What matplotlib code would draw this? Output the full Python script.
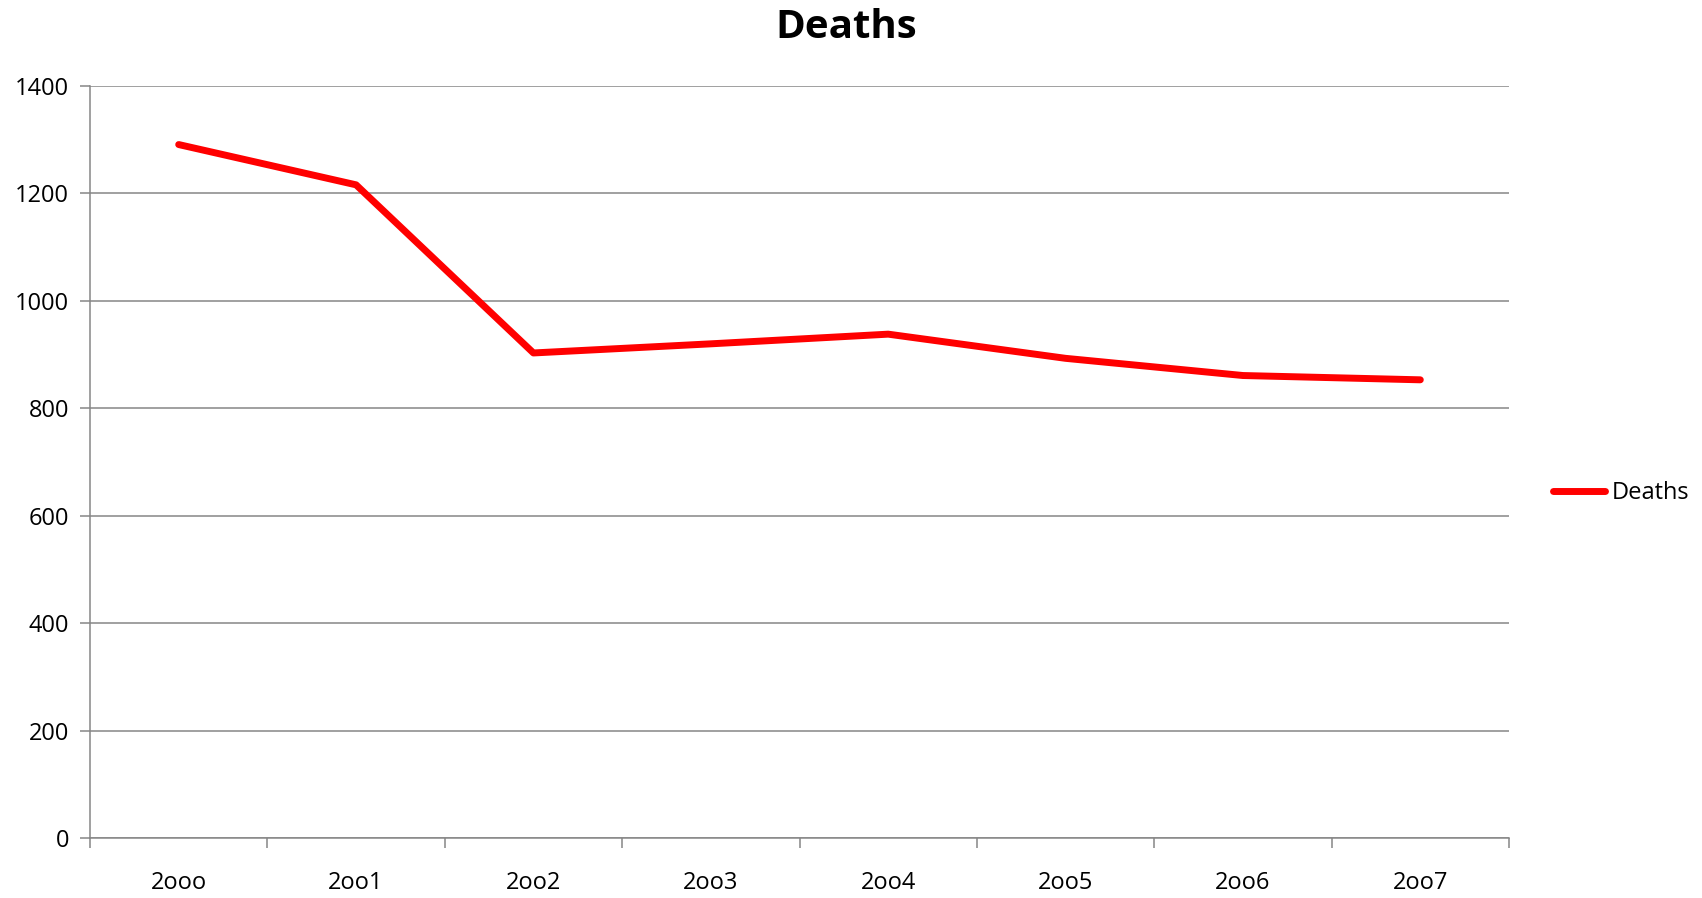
import numpy as np
import matplotlib.pyplot as plt

years = ['2ooo', '2oo1', '2oo2', '2oo3', '2oo4', '2oo5', '2oo6', '2oo7']
deaths = [1291, 1216, 903, 920, 938, 893, 861, 853]

plt.rcParams['font.family'] = ['Open Sans', 'DejaVu Sans']

fig = plt.figure(figsize=(17.02, 8.98), dpi=100)
ax = fig.add_axes([90/1702, 1-838/898, (1509-90)/1702, (838-86)/898])

x = np.arange(len(years))
ax.plot(x, deaths, color='#ff0000', lw=5, label='Deaths', solid_capstyle='round')

ax.set_xlim(-0.5, len(years) - 0.5)
ax.set_ylim(0, 1400)
ax.set_yticks(range(0, 1401, 200))
ax.set_xticks(x)
ax.set_xticklabels(years)
ax.set_xticks(np.arange(-0.5, len(years), 1), minor=True)

grid_c = '#868686'
ax.yaxis.grid(True, color=grid_c, lw=1.1)
ax.set_axisbelow(True)
for s in ['top', 'right']:
    ax.spines[s].set_visible(False)
for s in ['left', 'bottom']:
    ax.spines[s].set_color(grid_c)
    ax.spines[s].set_linewidth(1.1)

ax.tick_params(axis='y', length=7, color=grid_c, width=1.1, labelsize=17, pad=8)
ax.tick_params(axis='x', which='major', length=0, labelsize=17, pad=24)
ax.tick_params(axis='x', which='minor', length=7, color=grid_c, width=1.1)

fig.text(0.497, 1 - 28/898, 'Deaths', fontsize=29, fontweight='bold',
         ha='center', va='center')

ax.legend(loc='center left', bbox_to_anchor=(1.016, 0.459), frameon=False,
          fontsize=17, handlelength=2.2, handletextpad=0.3)

fig.savefig('out.png', dpi=100)
